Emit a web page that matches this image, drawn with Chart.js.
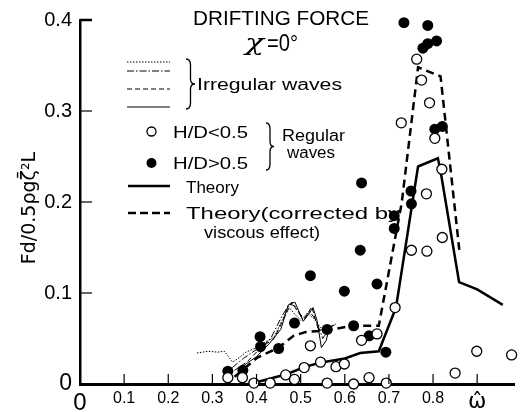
<!DOCTYPE html>
<html><head><meta charset="utf-8">
<script src="https://cdn.jsdelivr.net/npm/chart.js@4.4.0/dist/chart.umd.min.js"></script>
<style>html,body{margin:0;padding:0;background:#fff}#wrap{width:521px;height:412px}</style>
</head><body><div id="wrap"><canvas id="c" width="521" height="412"></canvas></div>
<script>
// ---- axis ticks ----
const xTicks = [0, 0.1, 0.2, 0.3, 0.4, 0.5, 0.6, 0.7, 0.8, 0.9];
const xTickLabels = ['0', '0.1', '0.2', '0.3', '0.4', '0.5', '0.6', '0.7', '0.8', 'ω̂'];
const yTicks = [0, 0.1, 0.2, 0.3, 0.4];
const yTickLabels = ['0', '0.1', '0.2', '0.3', '0.4'];

// ---- regular waves, H/D < 0.5 (open circles) ----
const openX = [0.335, 0.368, 0.394, 0.431, 0.466, 0.486, 0.508, 0.522, 0.545, 0.560, 0.580, 0.599, 0.620, 0.638, 0.655, 0.673, 0.694, 0.714, 0.728, 0.751, 0.763, 0.774, 0.785, 0.786, 0.792, 0.804, 0.820, 0.821, 0.850, 0.899, 0.978];
const openY = [0.007, 0.007, 0.001, 0.001, 0.010, 0.005, 0.018, 0.042, 0.024, 0.001, 0.019, 0.022, 0.000, 0.048, 0.007, 0.055, 0.001, 0.084, 0.287, 0.147, 0.357, 0.334, 0.209, 0.146, 0.309, 0.270, 0.236, 0.161, 0.012, 0.036, 0.032];

// ---- regular waves, H/D > 0.5 (filled circles) ----
const fillX = [0.335, 0.369, 0.408, 0.409, 0.450, 0.486, 0.522, 0.560, 0.599, 0.620, 0.635, 0.638, 0.655, 0.673, 0.693, 0.712, 0.712, 0.750, 0.751, 0.734, 0.788, 0.777, 0.788, 0.808, 0.804, 0.821];
const fillY = [0.014, 0.015, 0.052, 0.041, 0.039, 0.067, 0.119, 0.060, 0.102, 0.064, 0.147, 0.221, 0.053, 0.110, 0.035, 0.171, 0.185, 0.212, 0.198, 0.397, 0.394, 0.369, 0.374, 0.377, 0.280, 0.283];

// ---- theory ----
const theoryX = [0.38, 0.40, 0.47, 0.51, 0.55, 0.60, 0.635, 0.677, 0.716, 0.766, 0.811, 0.818, 0.859, 0.900, 0.958];
const theoryY = [0.000, 0.002, 0.011, 0.019, 0.024, 0.028, 0.034, 0.036, 0.084, 0.239, 0.248, 0.231, 0.112, 0.104, 0.087];

// ---- theory corrected by viscous effect ----
const corrX = [0.350, 0.402, 0.450, 0.484, 0.510, 0.558, 0.618, 0.677, 0.729, 0.766, 0.817, 0.860];
const corrY = [0.008, 0.029, 0.040, 0.053, 0.057, 0.059, 0.064, 0.064, 0.199, 0.348, 0.338, 0.145];

// ---- irregular waves (4 records) ----
const irrDotX = [0.265, 0.290, 0.312, 0.327, 0.335, 0.346, 0.361, 0.376, 0.400, 0.420, 0.440, 0.458, 0.472, 0.488, 0.500, 0.515, 0.530, 0.545, 0.560];
const irrDotY = [0.034, 0.036, 0.035, 0.036, 0.031, 0.024, 0.029, 0.035, 0.040, 0.046, 0.052, 0.070, 0.085, 0.076, 0.070, 0.078, 0.072, 0.062, 0.064];
const irrDashDotX = [0.345, 0.370, 0.400, 0.430, 0.458, 0.475, 0.490, 0.505, 0.520, 0.535, 0.550, 0.568, 0.580];
const irrDashDotY = [0.018, 0.028, 0.038, 0.048, 0.075, 0.088, 0.085, 0.070, 0.080, 0.070, 0.050, 0.063, 0.066];
const irrDashX = [0.350, 0.380, 0.410, 0.440, 0.460, 0.480, 0.495, 0.510, 0.525, 0.540, 0.560, 0.575];
const irrDashY = [0.015, 0.025, 0.040, 0.050, 0.070, 0.090, 0.078, 0.072, 0.085, 0.060, 0.058, 0.064];
const irrSolidX = [0.370, 0.400, 0.430, 0.455, 0.472, 0.487, 0.495, 0.506, 0.517, 0.528, 0.537, 0.547, 0.558, 0.565, 0.577];
const irrSolidY = [0.020, 0.030, 0.045, 0.060, 0.087, 0.090, 0.081, 0.069, 0.076, 0.084, 0.070, 0.040, 0.048, 0.062, 0.065];

const pts = (xs, ys) => xs.map((x, i) => ({x, y: ys[i]}));
const FONT = '"Liberation Sans", "DejaVu Sans", sans-serif';
const MATH = '"DejaVu Sans", sans-serif';

function fitText(ctx, str, left, base, size, width, style, family) {
  ctx.save();
  ctx.font = (style ? style + ' ' : '') + size + 'px ' + (family || FONT);
  const m = ctx.measureText(str).width;
  ctx.translate(left, base);
  ctx.scale(width / m, 1);
  ctx.textAlign = 'left';
  ctx.textBaseline = 'alphabetic';
  ctx.fillStyle = '#000';
  ctx.fillText(str, 0, 0);
  ctx.restore();
}
function brace(ctx, x, top, bot, w) {
  const mid = (top + bot) / 2, h = w / 2;
  ctx.beginPath();
  ctx.moveTo(x, top);
  ctx.quadraticCurveTo(x + h, top, x + h, top + 6);
  ctx.lineTo(x + h, mid - 5);
  ctx.quadraticCurveTo(x + h, mid, x + w, mid);
  ctx.quadraticCurveTo(x + h, mid, x + h, mid + 5);
  ctx.lineTo(x + h, bot - 6);
  ctx.quadraticCurveTo(x + h, bot, x, bot);
  ctx.stroke();
}
function seg(ctx, x1, x2, y, w, dash) {
  ctx.save();
  ctx.beginPath();
  ctx.lineWidth = w;
  ctx.setLineDash(dash || []);
  ctx.moveTo(x1, y); ctx.lineTo(x2, y);
  ctx.stroke();
  ctx.restore();
}

const decor = {
  id: 'decor',
  afterDraw(chart) {
    const ctx = chart.ctx, xs = chart.scales.x, ys = chart.scales.y;
    const a = chart.chartArea;
    ctx.save();
    ctx.strokeStyle = '#000';
    ctx.fillStyle = '#000';
    // inner tick marks
    ctx.lineWidth = 1.2;
    xTicks.forEach(v => {
      if (v === 0) return;
      const p = xs.getPixelForValue(v);
      ctx.beginPath(); ctx.moveTo(p, a.bottom); ctx.lineTo(p, a.bottom - 10); ctx.stroke();
    });
    yTicks.forEach(v => {
      if (v === 0) return;
      const p = ys.getPixelForValue(v);
      ctx.lineWidth = v === 0.4 ? 2.5 : 1.2;
      ctx.beginPath(); ctx.moveTo(a.left, p); ctx.lineTo(a.left + 12, p); ctx.stroke();
    });
    // legend: irregular waves
    seg(ctx, 127, 170, 62, 1, [1.5, 1.5]);
    seg(ctx, 127, 170, 71, 1, [7, 2, 1.5, 2]);
    seg(ctx, 127, 170, 89, 1, [5, 3]);
    seg(ctx, 127, 170, 107, 1);
    ctx.lineWidth = 1.3;
    brace(ctx, 186, 59, 109, 9);
    fitText(ctx, 'Irregular waves', 197, 90, 16, 145);
    // legend: regular waves
    ctx.beginPath(); ctx.arc(151.5, 131.5, 4.5, 0, Math.PI * 2);
    ctx.fillStyle = '#fff'; ctx.fill(); ctx.lineWidth = 1.3; ctx.stroke();
    ctx.beginPath(); ctx.arc(151.5, 163, 5, 0, Math.PI * 2);
    ctx.fillStyle = '#000'; ctx.fill();
    fitText(ctx, 'H/D<0.5', 173, 137.5, 16, 75);
    fitText(ctx, 'H/D>0.5', 173, 168.5, 16, 75);
    ctx.lineWidth = 1.3;
    brace(ctx, 266, 123, 170, 8);
    fitText(ctx, 'Regular', 282, 141, 16, 63);
    fitText(ctx, 'waves', 287, 158, 16, 48);
    // legend: theory
    seg(ctx, 128, 170, 186, 2.5);
    fitText(ctx, 'Theory', 186, 193, 17, 53);
    seg(ctx, 128, 170, 213, 2.5, [8, 4]);
    fitText(ctx, 'Theory(corrected by', 186, 219, 17, 214);
    fitText(ctx, 'viscous effect)', 204, 238, 17, 116);
    // title
    fitText(ctx, 'DRIFTING FORCE', 193, 25, 20, 176);
    fitText(ctx, 'χ', 245, 50, 23, 19, 'italic', '"DejaVu Serif", serif');
    fitText(ctx, '=0°', 267, 51, 23, 31);
    ctx.restore();
  }
};

new Chart(document.getElementById('c'), {
  type: 'scatter',
  data: {
    datasets: [
      {label: 'H/D<0.5', data: pts(openX, openY), pointRadius: 5, pointBorderWidth: 1.3,
        pointBorderColor: '#000', pointBackgroundColor: '#fff', showLine: false, order: 0, clip: false},
      {label: 'H/D>0.5', data: pts(fillX, fillY), pointRadius: 5.5, pointBorderWidth: 0,
        pointBorderColor: '#000', pointBackgroundColor: '#000', showLine: false, order: 1, clip: false},
      {label: 'Theory', data: pts(theoryX, theoryY), showLine: true, borderColor: '#000',
        borderWidth: 2.5, pointRadius: 0, tension: 0, order: 2},
      {label: 'Theory (corrected)', data: pts(corrX, corrY), showLine: true, borderColor: '#000',
        borderWidth: 2.5, borderDash: [8, 5], pointRadius: 0, tension: 0, order: 3},
      {label: 'Irregular 1', data: pts(irrDotX, irrDotY), showLine: true, borderColor: '#000',
        borderWidth: 1, borderDash: [1.5, 1.5], pointRadius: 0, tension: 0, order: 4},
      {label: 'Irregular 2', data: pts(irrDashDotX, irrDashDotY), showLine: true, borderColor: '#000',
        borderWidth: 1, borderDash: [7, 2, 1.5, 2], pointRadius: 0, tension: 0, order: 5},
      {label: 'Irregular 3', data: pts(irrDashX, irrDashY), showLine: true, borderColor: '#000',
        borderWidth: 1, borderDash: [5, 3], pointRadius: 0, tension: 0, order: 6},
      {label: 'Irregular 4', data: pts(irrSolidX, irrSolidY), showLine: true, borderColor: '#000',
        borderWidth: 1, pointRadius: 0, tension: 0, order: 7}
    ]
  },
  options: {
    responsive: false,
    devicePixelRatio: 1,
    animation: false,
    layout: {padding: {top: 14, left: 0, right: 0, bottom: 0}},
    plugins: {legend: {display: false}, tooltip: {enabled: false}},
    scales: {
      x: {
        type: 'linear', min: 0, max: 0.985,
        afterBuildTicks: s => { s.ticks = xTicks.map(v => ({value: v})); },
        afterFit: s => { s.height = 28; },
        grid: {display: false, drawTicks: false},
        border: {display: true, color: '#000', width: 3},
        ticks: {
          autoSkip: false, maxRotation: 0, color: '#000', padding: 5,
          callback: (v, i) => xTickLabels[i],
          font: c => (c.index === xTicks.length - 1
            ? {family: MATH, size: 22}
            : {family: FONT, size: c.index === 0 ? 24 : 16})
        }
      },
      y: {
        type: 'linear', min: 0, max: 0.4,
        afterBuildTicks: s => { s.ticks = yTicks.map(v => ({value: v})); },
        afterFit: s => { s.width = 80; },
        grid: {display: false, drawTicks: false},
        border: {display: true, color: '#000', width: 2.5},
        ticks: {
          color: '#000', padding: 8,
          callback: (v, i) => yTickLabels[i],
          font: c => ({family: FONT, size: c.index === 0 ? 23 : 20})
        },
        title: {display: true, text: 'Fd/0.5ρgζ̄²L  ', color: '#000',
          font: {family: MATH, size: 19}, padding: {top: 19, bottom: 0}}
      }
    }
  },
  plugins: [decor]
});
</script>
</body></html>
